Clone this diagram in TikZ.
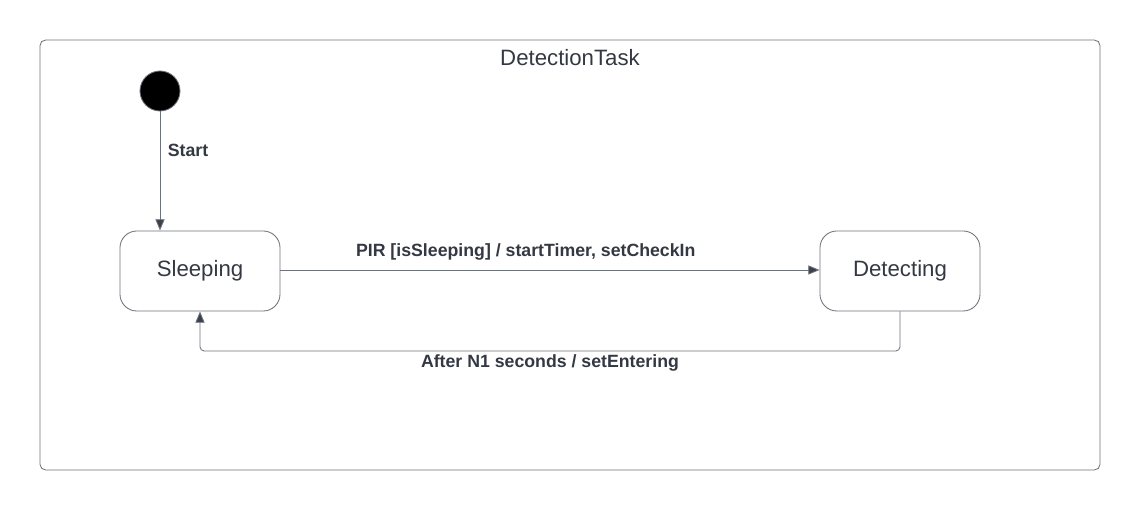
\documentclass[tikz,border=0pt]{standalone}
\usepackage{fontspec}
\setmainfont{Liberation Sans}
\usetikzlibrary{arrows.meta,positioning}
\definecolor{linegray}{HTML}{6E727A}
\definecolor{textgray}{HTML}{333842}
\definecolor{headgray}{HTML}{3A414B}
\begin{document}
\begin{tikzpicture}[x=0.025cm,y=-0.025cm,
semithick ,
state/.style ={rectangle, rounded corners=12pt, draw=linegray, text=textgray,
minimum width=4cm, minimum height=2cm, font=\fontsize{15.8}{18}\selectfont},
trans/.style ={draw=linegray, -{Triangle[length=8pt,width=6.5pt,fill=headgray]}},
lbl/.style ={text=textgray, font=\fontsize{12.6}{14}\selectfont\bfseries}]

\useasboundingbox (0,0) rectangle (1140,511);

\draw[linegray, rounded corners=4pt] (40,40) rectangle (1100,470);
\node[text=textgray, font=\fontsize{15.8}{18}\selectfont] (title) at (570,58) {DetectionTask};

\node[circle, fill=black, draw=linegray, minimum size=1cm, inner sep=0pt] (init) at (160,91) {};

\node[state] (sleeping) at (200,271) {Sleeping};
\node[state] (detecting) at (900,271) {Detecting};

\draw[trans] (init) -- (init |- sleeping.north)
  node[lbl, pos=0.33, right=2pt] (start) {Start};

\draw[trans] (sleeping.east |- 0,270) -- (detecting.west |- 0,270)
  node[lbl, pos=0.455, above=3pt] (go) {PIR [isSleeping] / startTimer, setCheckIn};

\coordinate (bendR) at (900,351);
\coordinate (bendL) at (200,351);
\draw[trans, rounded corners=3pt] (detecting.south) -- (bendR) -- (bendL) -- (sleeping.south);
\node[lbl] (back) at (550,363) {After N1 seconds / setEntering};

\end{tikzpicture}
\end{document}
